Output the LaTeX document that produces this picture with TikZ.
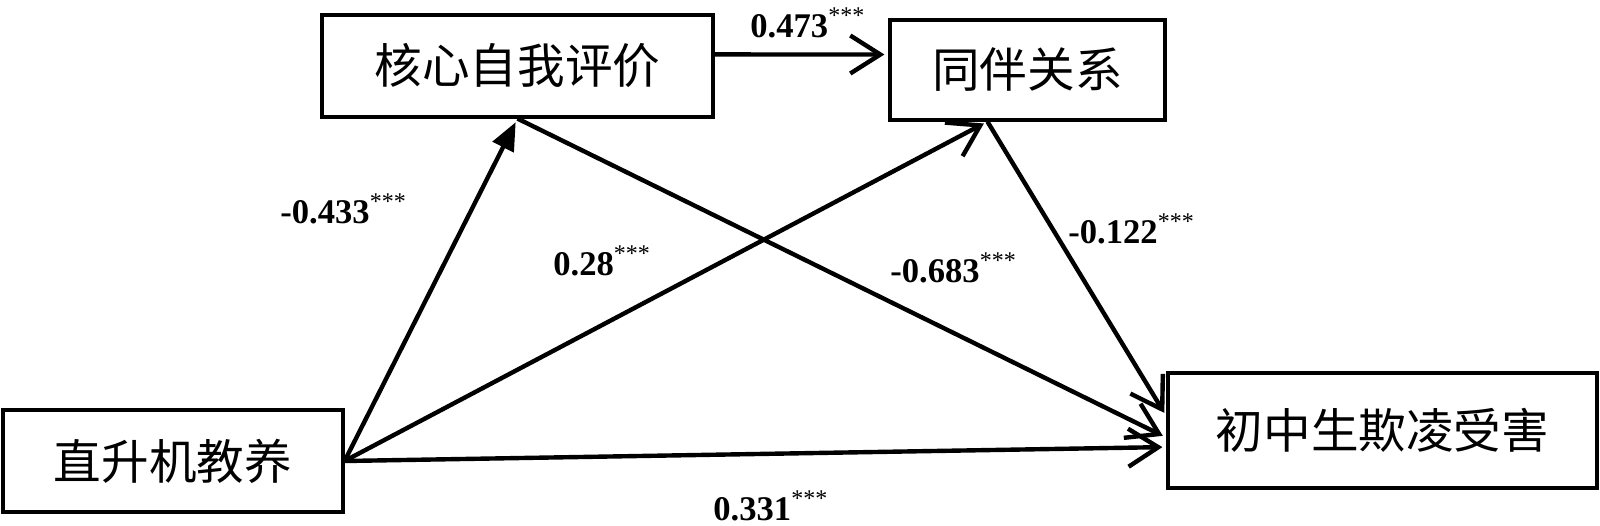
\documentclass[tikz,border=0pt]{standalone}
\usepackage{fontspec}
\setmainfont{Liberation Serif}
\newfontfamily\cjk{Noto Sans CJK SC}
\usetikzlibrary{arrows.meta,calc}
\newcommand\mystars{\raisebox{7pt}{\fontsize{12pt}{12pt}\selectfont\mdseries ***}}
\begin{document}
\begin{tikzpicture}[x=0.5pt,y=-0.5pt,
  box/.style={draw,line width=1.6pt,inner sep=0pt,font=\cjk\fontsize{23.8pt}{28pt}\selectfont},
  conn/.style={line width=2.2pt,shorten >=2pt,-{Straight Barb[length=15pt,width=19pt]}},
  coef/.style={anchor=base west,inner sep=0pt,font=\fontsize{17.3pt}{20pt}\selectfont\bfseries}]
\useasboundingbox (0,0) rectangle (1600,525);
% boxes
\node[box,minimum width=195.5pt,minimum height=51pt] (cse) at (517.5,66) {核心自我评价\hspace{15pt}};
\node[box,minimum width=137.5pt,minimum height=50pt] (peer) at (1027.5,70) {同伴关系\hspace{5pt}};
\node[box,minimum width=214.5pt,minimum height=57.5pt] (vic) at (1382.5,430.5) {初中生欺凌受害\hspace{10pt}};
\node[box,minimum width=170pt,minimum height=51pt] (heli) at (173,461) {直升机教养\hspace{11.5pt}};
% connection points
\coordinate (cseR) at ($(cse.north east)!0.39!(cse.south east)$);
\coordinate (peerL) at ($(peer.north west)!0.35!(peer.south west)$);
\coordinate (peerB) at ($(peer.south west)!0.356!(peer.south east)$);
\coordinate (vicA) at ($(vic.north west)!0.38!(vic.south west)$);
\coordinate (vicB) at ($(vic.north west)!0.56!(vic.south west)$);
\coordinate (vicC) at ($(vic.north west)!0.64!(vic.south west)$);
% connectors
\draw[conn] (cseR) -- (peerL);
\draw[conn,-{Triangle[length=14pt,width=11.5pt]}] (heli.east) -- (cse.south);
\draw[conn] (heli.east) -- (peerB);
\draw[conn] (heli.east) -- (vicC);
\draw[conn] (cse.south) -- (vicB);
\draw[conn] (peerB) -- (vicA);
% coefficients
\node[coef] (l473) at (750,37) {0.473\mystars};
\node[coef] (l433) at (280,223) {-0.433\mystars};
\node[coef] (l28) at (553,275) {0.28\mystars};
\node[coef] (l683) at (890,282) {-0.683\mystars};
\node[coef] (l122) at (1068,243) {-0.122\mystars};
\node[coef] (l331) at (713,520) {0.331\mystars};
\end{tikzpicture}
\end{document}
